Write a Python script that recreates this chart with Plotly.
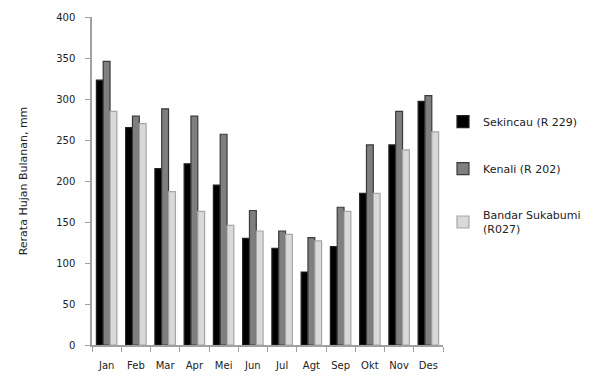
import plotly.graph_objects as go

months = ["Jan", "Feb", "Mar", "Apr", "Mei", "Jun", "Jul", "Agt", "Sep", "Okt", "Nov", "Des"]
sekincau = [323, 265, 215, 221, 195, 130, 118, 89, 120, 185, 244, 297]
kenali = [346, 279, 288, 279, 257, 164, 139, 131, 168, 244, 285, 304]
bandar = [285, 270, 187, 163, 146, 139, 135, 127, 163, 185, 238, 260]
names = ["Sekincau (R 229)", "Kenali (R 202)", "Bandar Sukabumi<br>(R027)"]
y_ticks = [0, 50, 100, 150, 200, 250, 300, 350, 400]

fig = go.Figure()
series = [
    (sekincau, "#000000", "#222222"),
    (kenali, "#7f7f7f", "#3a3a3a"),
    (bandar, "#d9d9d9", "#a6a6a6"),
]
for i, (vals, col, edge) in enumerate(series):
    fig.add_trace(go.Bar(
        x=months, y=vals, name=names[i], legendgroup=str(i),
        marker=dict(color=col, line=dict(color=edge, width=1.2)),
    ))

font = "DejaVu Sans, Verdana, sans-serif"
fig.update_layout(
    width=598, height=378,
    margin=dict(l=92, r=146, t=17, b=33),
    paper_bgcolor="white", plot_bgcolor="white",
    barmode="group", bargap=0.3, bargroupgap=0.0,
    font=dict(family=font, size=10, color="#333333"),
    showlegend=True,
    legend=dict(x=1.0, y=0.725, xanchor="left", yanchor="top",
                font=dict(family=font, size=11, color="#222222"),
                tracegroupgap=28, bgcolor="rgba(0,0,0,0)", itemwidth=30),
    xaxis=dict(showline=True, linecolor="#a0a0a0", linewidth=1.5,
               ticks="outside", tickson="boundaries", ticklen=5, tickcolor="#a0a0a0",
               ticklabelstandoff=10, tickangle=0, automargin=False,
               tickfont=dict(size=10, color="#222222"), showgrid=False),
    yaxis=dict(range=[0, 400], tickvals=y_ticks, showline=True, linecolor="#a0a0a0",
               linewidth=1.5, ticks="outside", ticklen=5, tickcolor="#a0a0a0",
               showgrid=False, zeroline=False, ticklabelstandoff=8, automargin=False,
               tickfont=dict(size=10, color="#222222"),
               title=dict(text="Rerata Hujan Bulanan, mm", standoff=26,
                          font=dict(size=11, color="#222222"))),
)
fig.write_html("out.html")
